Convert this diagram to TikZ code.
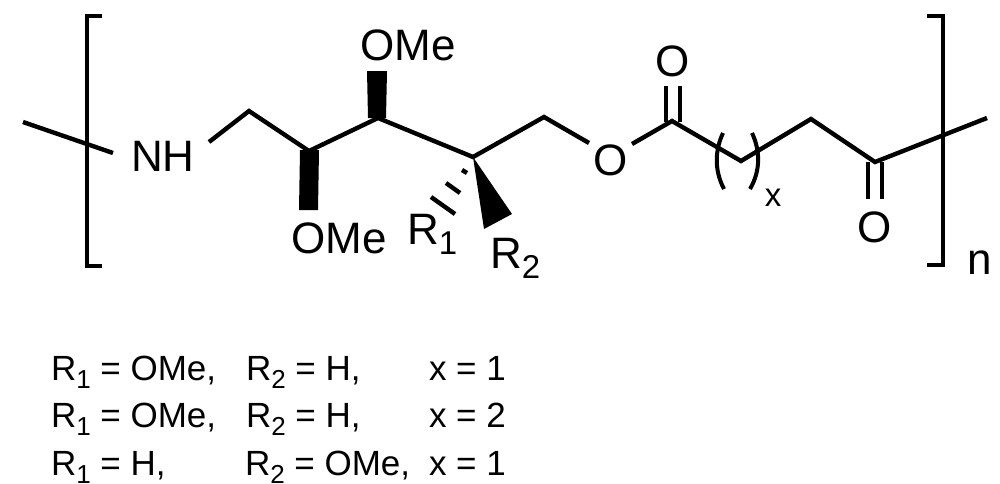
\documentclass[tikz,border=0pt]{standalone}
\usepackage{fontspec}
\setmainfont{Liberation Sans}
\newcommand{\bigf}{\fontsize{44}{50}\selectfont}
\newcommand{\midf}{\fontsize{35}{40}\selectfont}
\newcommand{\subA}[1]{\raisebox{-10pt}{\fontsize{33}{36}\selectfont #1}}
\newcommand{\subB}[1]{\raisebox{-8pt}{\fontsize{26}{30}\selectfont #1}}
\tikzset{
  x=1pt,y=-1pt,
  bond/.style={line width=4.4pt,line cap=butt,line join=miter,black},
  brk/.style={line width=4.4pt,line cap=butt,line join=miter,black},
  wedge/.style={fill=black,draw=none},
  atom/.style={inner sep=0pt,outer sep=0pt,font=\bigf,anchor=base},
  tabtext/.style={inner sep=0pt,outer sep=0pt,font=\midf,anchor=base west},
}
\begin{document}
\begin{tikzpicture}
\useasboundingbox (0,0) rectangle (1000,483);
\clip (0,0) rectangle (1000,483);
% skeleton points
\coordinate (e1) at (23,122);
\coordinate (e2) at (113,153);
\coordinate (n1) at (209,142);
\coordinate (c1) at (249,111);
\coordinate (c2) at (309,151);
\coordinate (c3) at (378,118);
\coordinate (c4) at (473,157);
\coordinate (c5) at (544,117);
\coordinate (o1) at (589,143);
\coordinate (o2) at (632,144);
\coordinate (c6) at (672,121);
\coordinate (c7) at (741,161);
\coordinate (c8) at (811,119);
\coordinate (c9) at (875,162);
\coordinate (e3) at (987,118);
% atom labels
\node[atom] (nh) at (163,171) {NH};
\node[atom] (ome1) at (408,60) {OMe};
\node[atom] (ome2) at (339,253) {OMe};
\node[atom,anchor=base west] (r1) at (407,244) {R\subA{1}};
\node[atom,anchor=base west] (r2) at (490,268) {R\subA{2}};
\node[atom] (o) at (611,175) {O};
\node[atom] (otop) at (673,76) {O};
\node[atom] (obot) at (875,242) {O};
\node[atom,font=\fontsize{33}{36}\selectfont] (xl) at (773,206) {x};
\node[atom,font=\fontsize{44}{50}\selectfont] (nl) at (980,274) {n};
% chain
\draw[bond] (e1) -- (e2);
\draw[bond] (n1) -- (c1) -- (c2) -- (c3) -- (c4) -- (c5) -- (o1);
\draw[bond] (o2) -- (c6) -- (c7) -- (c8) -- (c9) -- (e3);
% carbonyls
\draw[bond] (666,122) -- (666,86);
\draw[bond] (680,122) -- (680,86);
\draw[bond] (868,162) -- (868,199);
\draw[bond] (882,162) -- (882,199);
% wedges (blunt, nearly rectangular blocks)
\fill[wedge] (368,118) -- (367,71) -- (387,71) -- (386,118) -- cycle;
\fill[wedge] (300,150) -- (299,210) -- (318,210) -- (319,150) -- cycle;
\fill[wedge] (c4) -- (484,229) -- (512,214) -- cycle;
% hash
\draw[bond] (462,170) -- (467,173);
\draw[bond] (446,183) -- (460,193);
\draw[bond] (431,197) -- (455,214);
% repeat-unit parentheses
\draw[bond,line width=4pt] (723,133) .. controls (715,150) and (714,170) .. (724,189);
\draw[bond,line width=4pt] (752,133) .. controls (760,150) and (761,170) .. (750,189);
% brackets
\draw[brk] (102,16) -- (87,16) -- (87,266) -- (102,266);
\draw[brk] (927,16) -- (943,16) -- (943,265) -- (927,265);
% table
\node[tabtext] (a1) at (51,380) {R\subB{1} = OMe,};
\node[tabtext] (a2) at (246,380) {R\subB{2} = H,};
\node[tabtext] (a3) at (429,380) {x = 1};
\node[tabtext] (b1) at (51,427) {R\subB{1} = OMe,};
\node[tabtext] (b2) at (246,427) {R\subB{2} = H,};
\node[tabtext] (b3) at (429,427) {x = 2};
\node[tabtext] (d1) at (51,475) {R\subB{1} = H,};
\node[tabtext] (d2) at (245,475) {R\subB{2} = OMe,};
\node[tabtext] (d3) at (429,475) {x = 1};
\end{tikzpicture}
\end{document}
